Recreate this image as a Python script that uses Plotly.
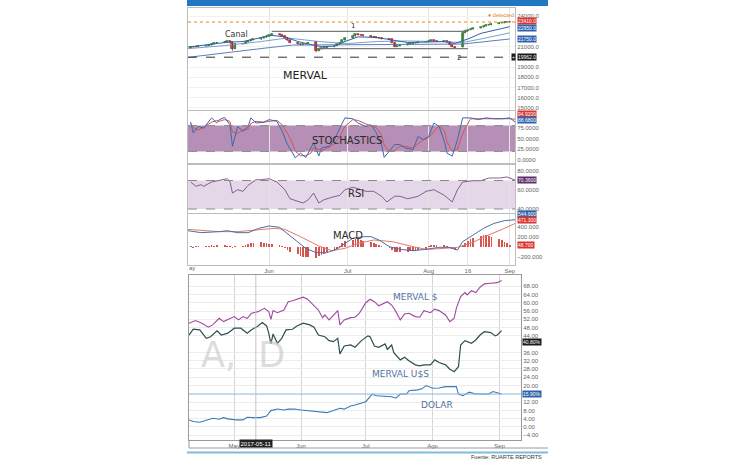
import pandas as pd
import plotly.graph_objects as go

# ---------------- DATA ----------------
# MERVAL daily candles (trading days 2017-05-02 .. 2017-09-01)
trade_days = pd.bdate_range("2017-05-02", "2017-09-01")
m_open = [20900, 20950, 21000, 20980, 21050, 21100, 21150, 21250, 21350, 21400, 21500, 21550, 21450, 20800, 21250, 21300, 21450, 21550, 21650, 21700, 21800, 21900,
          22000, 22100, 22200, 22150, 22050, 21850, 21600, 21400, 21250, 21200, 21250, 21300, 21450, 20600, 20750, 20850, 20900, 21000, 21100, 21250, 21400, 21600,
          21800, 22000, 22200, 22150, 22100, 22050, 21950, 21900, 21850, 21800, 21750, 21700, 21400, 21000, 21050, 21150, 21250, 21300, 21350, 21400, 21450,
          21500, 21550, 21600, 21550, 21500, 21550, 21450, 21200, 21000, 20950, 22350, 22550, 22650, 22700, 22800, 22900, 23000, 23100, 23150, 23250, 23300, 23350, 23400, 23380]
m_high = [21000, 21050, 21050, 21100, 21150, 21200, 21300, 21400, 21450, 21550, 21600, 21600, 21500, 21300, 21350, 21500, 21600, 21700, 21750, 21850, 21950, 22100,
          22150, 22300, 22250, 22200, 22100, 21900, 21650, 21450, 21300, 21300, 21350, 21450, 21500, 20800, 20900, 20950, 21050, 21150, 21300, 21450, 21650, 21850,
          22050, 22250, 22250, 22200, 22150, 22100, 22000, 21950, 21900, 21850, 21800, 21750, 21450, 21100, 21200, 21300, 21350, 21400, 21450, 21500, 21550,
          21600, 21650, 21650, 21600, 21600, 21600, 21500, 21250, 21050, 22400, 22650, 22700, 22750, 22850, 22950, 23050, 23150, 23200, 23300, 23350, 23400, 23450, 23450, 23480]
m_low = [20850, 20900, 20930, 20950, 21000, 21050, 21100, 21200, 21300, 21350, 21450, 21400, 20600, 20750, 21200, 21250, 21400, 21500, 21600, 21650, 21750, 21850,
         21950, 22050, 22100, 22000, 21800, 21550, 21350, 21200, 21150, 21150, 21200, 21250, 20450, 20550, 20700, 20800, 20850, 20950, 21050, 21200, 21350, 21550,
         21750, 21950, 22100, 22050, 22000, 21900, 21850, 21800, 21750, 21700, 21650, 21350, 20950, 20950, 21000, 21100, 21200, 21250, 21300, 21350, 21400,
         21450, 21500, 21500, 21450, 21450, 21400, 21150, 20950, 20850, 20900, 22300, 22500, 22600, 22650, 22750, 22850, 22950, 23050, 23100, 23200, 23250, 23300, 23330, 23350]
m_close = [20950, 21000, 20980, 21050, 21100, 21150, 21250, 21350, 21400, 21500, 21550, 21450, 20750, 21250, 21300, 21450, 21550, 21650, 21700, 21800, 21900, 22000,
           22100, 22200, 22150, 22050, 21850, 21600, 21400, 21250, 21200, 21250, 21300, 21400, 20600, 20750, 20850, 20900, 21000, 21100, 21250, 21400, 21600, 21800,
           22000, 22200, 22150, 22100, 22050, 21950, 21900, 21850, 21800, 21750, 21700, 21400, 21000, 21050, 21150, 21250, 21300, 21350, 21400, 21450, 21500,
           21550, 21600, 21550, 21500, 21550, 21450, 21200, 21000, 20900, 22350, 22550, 22650, 22700, 22800, 22900, 23000, 23100, 23150, 23250, 23300, 23350, 23400, 23380, 23410]

ma1_dates = ["2017-05-01", "2017-05-08", "2017-05-15", "2017-05-22", "2017-05-29", "2017-06-02", "2017-06-07", "2017-06-12", "2017-06-16", "2017-06-21", "2017-06-26", "2017-06-30",
             "2017-07-05", "2017-07-12", "2017-07-18", "2017-07-24", "2017-07-31", "2017-08-07", "2017-08-11", "2017-08-16", "2017-08-21", "2017-08-28", "2017-09-01"]
ma1 = [20950, 21150, 21400, 21500, 21850, 22100, 21950, 21500, 21250, 21000, 21050, 21500, 21950, 21900, 21650, 21400, 21450, 21500, 21300, 21750, 22300, 22750, 22950]
ma2_dates = ["2017-05-01", "2017-05-15", "2017-05-29", "2017-06-08", "2017-06-20", "2017-07-01", "2017-07-12", "2017-07-24", "2017-08-04", "2017-08-14", "2017-08-21", "2017-09-01"]
ma2 = [20800, 21100, 21500, 21850, 21500, 21300, 21500, 21550, 21500, 21400, 21750, 22350]
ma3_dates = ["2017-05-01", "2017-05-15", "2017-06-01", "2017-06-10", "2017-07-01", "2017-07-20", "2017-08-14", "2017-09-01"]
ma3 = [19950, 20400, 20900, 21150, 21200, 21250, 21250, 21750]

channel1_dates = ["2017-06-02", "2017-08-16"]
channel1 = [22500, 22500]
channel2_dates = ["2017-06-19", "2017-08-16"]
channel2 = [20800, 20800]
last_price = 23410
support_level = 19962

# Stochastics
stoch_dates = ["2017-05-02", "2017-05-03", "2017-05-05", "2017-05-07", "2017-05-10", "2017-05-12", "2017-05-13", "2017-05-15", "2017-05-17", "2017-05-18", "2017-05-20", "2017-05-22",
               "2017-05-24", "2017-05-25", "2017-05-27", "2017-05-30", "2017-06-01", "2017-06-04", "2017-06-06", "2017-06-08", "2017-06-10", "2017-06-11", "2017-06-13", "2017-06-15",
               "2017-06-17", "2017-06-18", "2017-06-20", "2017-06-21", "2017-06-24", "2017-06-26", "2017-06-28", "2017-06-30", "2017-07-03", "2017-07-05", "2017-07-08", "2017-07-10",
               "2017-07-12", "2017-07-14", "2017-07-15", "2017-07-17", "2017-07-19", "2017-07-21", "2017-07-23", "2017-07-26", "2017-07-28", "2017-07-30", "2017-08-01", "2017-08-03",
               "2017-08-05", "2017-08-07", "2017-08-08", "2017-08-10", "2017-08-12", "2017-08-14", "2017-08-17", "2017-08-20", "2017-08-23", "2017-08-26", "2017-08-29", "2017-09-01", "2017-09-03"]
stoch_k = [88, 63, 78, 74, 98, 86, 94, 99, 82, 32, 78, 67, 78, 98, 86, 88,
           94, 90, 67, 36, 16, 5, 16, 6, 28, 40, 9, 28, 32, 47, 74, 98,
           96, 86, 78, 82, 63, 36, 6, 20, 36, 36, 28, 24, 55, 47,
           55, 86, 78, 43, 16, 9, 47, 98, 98, 94, 98, 96, 96,
           98, 88.68]
stoch_d = [85, 75, 70, 76, 88, 92, 90, 94, 90, 65, 62, 70, 72, 85, 90, 88,
           90, 92, 82, 62, 38, 20, 10, 10, 16, 28, 25, 22, 30, 38, 55, 78,
           94, 92, 84, 80, 75, 58, 35, 20, 22, 32, 32, 28, 38, 48,
           52, 65, 80, 68, 42, 20, 25, 62, 96, 96, 96, 97, 96,
           96, 94.92]
stoch_band = [20, 80]

# RSI
rsi_dates = ["2017-05-02", "2017-05-04", "2017-05-06", "2017-05-07", "2017-05-10", "2017-05-13", "2017-05-16", "2017-05-17", "2017-05-18", "2017-05-20", "2017-05-22", "2017-05-24",
             "2017-05-27", "2017-05-29", "2017-06-01", "2017-06-04", "2017-06-07", "2017-06-09", "2017-06-12", "2017-06-14", "2017-06-16", "2017-06-18", "2017-06-20", "2017-06-22",
             "2017-06-25", "2017-06-28", "2017-06-30", "2017-07-03", "2017-07-05", "2017-07-08", "2017-07-11", "2017-07-14", "2017-07-16", "2017-07-19", "2017-07-21", "2017-07-24",
             "2017-07-28", "2017-07-31", "2017-08-03", "2017-08-07", "2017-08-10", "2017-08-12", "2017-08-14", "2017-08-18", "2017-08-21", "2017-08-24", "2017-08-28", "2017-08-31", "2017-09-03"]
rsi = [68.4, 63.9, 65.6, 63.9, 68.4, 69.8, 71.9, 69.2, 56.8, 60.3, 58.6, 64.9, 70.8, 70.8,
       71.9, 68.4, 60.3, 50.8, 48.1, 46.3, 49.8, 56.8, 46.3, 49.8, 52.3, 54.4, 60.3,
       62.8, 61.4, 58.6, 58.6, 53.4, 47.4, 53.4, 53.4, 50.8, 53.4, 58.6,
       60.3, 54.4, 47.4, 60.3, 68.4, 69.8, 69.8, 72.6, 72.6, 73.7, 70.36]
rsi_band = [40, 70]

# MACD
macd_dates = ["2017-05-01", "2017-05-06", "2017-05-13", "2017-05-16", "2017-05-20", "2017-05-24", "2017-05-28", "2017-06-01", "2017-06-05", "2017-06-07", "2017-06-11", "2017-06-15",
              "2017-06-19", "2017-06-23", "2017-06-26", "2017-06-28", "2017-06-30", "2017-07-03", "2017-07-07", "2017-07-10", "2017-07-13", "2017-07-17", "2017-07-21", "2017-07-26",
              "2017-07-31", "2017-08-05", "2017-08-09", "2017-08-12", "2017-08-14", "2017-08-18", "2017-08-22", "2017-08-26", "2017-08-30", "2017-09-03"]
macd = [326, 287, 307, 326, 287, 287, 373, 420, 393, 307, 140, -27, -113, -113, -60, -7, 73, 173, 207, 207, 140, 7, -47, -73, -47, -7, -7, -60, 107, 240, 373, 473, 527, 544.6]
signal_dates = ["2017-05-01", "2017-05-13", "2017-05-20", "2017-05-28", "2017-06-03", "2017-06-07", "2017-06-13", "2017-06-20", "2017-06-25", "2017-06-30", "2017-07-05",
                "2017-07-11", "2017-07-18", "2017-07-26", "2017-07-31", "2017-08-07", "2017-08-12", "2017-08-17", "2017-08-23", "2017-08-30", "2017-09-03"]
signal = [353, 307, 307, 340, 373, 353, 207, 20, -73, -27, 73, 140, 107, 7, -47, -27, -7, 73, 220, 373, 471.3]
macd_hist = [10, -10, 15, 10, 20, 15, 25, 20, 30, 25, 20, 15, -10, 10, 20, 40, 60, 80, 90, 100, 90, 80,
             70, 60, 50, 20, -20, -60, -100, -140, -170, -190, -200, -190, -210, -180, -160, -130, -100, -70, -40, 20, 80, 120,
             150, 170, 160, 140, 120, 100, 80, 60, 40, 20, -20, -60, -90, -100, -100, -90, -80, -70, -60, -50, -40,
             20, 40, 50, 40, 30, 10, -20, -40, -50, 40, 80, 120, 160, 190, 220, 240, 240, 220, 200, 170, 140, 110, 90, 48.7]

# Lower chart: % change
merval_ars_dates = ["2017-04-10", "2017-04-13", "2017-04-16", "2017-04-19", "2017-04-21", "2017-04-24", "2017-04-26", "2017-04-28",
                    "2017-05-01", "2017-05-03", "2017-05-05", "2017-05-07", "2017-05-09", "2017-05-12", "2017-05-15", "2017-05-17", "2017-05-18", "2017-05-19", "2017-05-21", "2017-05-24", "2017-05-26", "2017-05-28", "2017-05-31",
                    "2017-06-02", "2017-06-04", "2017-06-06", "2017-06-09", "2017-06-11", "2017-06-12", "2017-06-14", "2017-06-16", "2017-06-18", "2017-06-19", "2017-06-21", "2017-06-24", "2017-06-26", "2017-06-28",
                    "2017-07-01", "2017-07-03", "2017-07-05", "2017-07-07", "2017-07-09", "2017-07-11", "2017-07-13", "2017-07-15", "2017-07-17", "2017-07-19", "2017-07-21", "2017-07-24", "2017-07-26", "2017-07-28", "2017-07-31",
                    "2017-08-02", "2017-08-04", "2017-08-07", "2017-08-09", "2017-08-11", "2017-08-12", "2017-08-14", "2017-08-16", "2017-08-17", "2017-08-19", "2017-08-21", "2017-08-23", "2017-08-25", "2017-08-28", "2017-08-31",
                    "2017-09-02"]
merval_ars = [50.1, 51.4, 50.1, 48.2, 49.3, 52.5, 50.9, 52,
              53.3, 51.7, 53.3, 52.5, 54.9, 55.7, 57.3, 55.7, 52, 56.2, 55.2, 56.5, 60.5, 61, 62.2,
              62.7, 61.7, 59.8, 56.5, 52.8, 54.1, 51.7, 54.1, 56.2, 49.3, 51.7, 52.8, 53, 54.9,
              60, 61.7, 60.5, 58.5, 59.4, 60.5, 58.9, 55.7, 51.7, 54.6, 54.9, 53.3, 53, 56.2, 55.2,
              56.9, 56.2, 54.1, 50.9, 52.5, 57.3, 63, 64.9, 63.8, 65.8, 64.9, 67.5, 69.1, 69.4, 69.7,
              70.7]
merval_usd_dates = ["2017-04-10", "2017-04-12", "2017-04-15", "2017-04-18", "2017-04-20", "2017-04-23", "2017-04-25", "2017-04-28",
                    "2017-05-01", "2017-05-04", "2017-05-07", "2017-05-09", "2017-05-12", "2017-05-14", "2017-05-16", "2017-05-17", "2017-05-18", "2017-05-19", "2017-05-21", "2017-05-23", "2017-05-25", "2017-05-28", "2017-05-30",
                    "2017-06-02", "2017-06-05", "2017-06-07", "2017-06-09", "2017-06-12", "2017-06-14", "2017-06-16", "2017-06-18", "2017-06-19", "2017-06-21", "2017-06-24", "2017-06-26", "2017-06-29",
                    "2017-07-02", "2017-07-03", "2017-07-05", "2017-07-07", "2017-07-10", "2017-07-11", "2017-07-13", "2017-07-14", "2017-07-17", "2017-07-19", "2017-07-21", "2017-07-24", "2017-07-26", "2017-07-28", "2017-07-31",
                    "2017-08-02", "2017-08-04", "2017-08-07", "2017-08-09", "2017-08-11", "2017-08-13", "2017-08-14", "2017-08-16", "2017-08-19", "2017-08-21", "2017-08-23", "2017-08-25", "2017-08-28", "2017-08-30", "2017-08-31",
                    "2017-09-02"]
merval_usd = [44.4, 47.2, 46.9, 42.8, 43.6, 46.4, 44.4, 45.3,
              47.7, 47.7, 45.3, 46.9, 48.8, 50.4, 48.8, 45.3, 40.1, 44.9, 40.4, 42.8, 46.9, 47.2, 48.8,
              50.1, 49.3, 48.2, 44.4, 43.6, 41.7, 41.2, 42.8, 35.3, 39.1, 39.6, 38.5, 41.7,
              44, 43.6, 39.1, 38.5, 40.1, 37.5, 39.6, 35.9, 32.4, 33.7, 32, 30, 29.5, 30, 30,
              32.4, 31.1, 30, 27.9, 26.7, 29.1, 39.6, 41.7, 40.4, 42, 44.4, 46, 45.6, 44, 44.4,
              46.5]
dolar_dates = ["2017-04-10", "2017-04-12", "2017-04-15", "2017-04-18", "2017-04-21", "2017-04-24", "2017-04-26", "2017-04-28",
               "2017-05-02", "2017-05-05", "2017-05-07", "2017-05-10", "2017-05-13", "2017-05-16", "2017-05-18", "2017-05-21", "2017-05-24", "2017-05-26", "2017-05-29",
               "2017-06-01", "2017-06-04", "2017-06-07", "2017-06-10", "2017-06-13", "2017-06-16", "2017-06-19", "2017-06-21", "2017-06-24", "2017-06-26", "2017-06-29",
               "2017-07-01", "2017-07-03", "2017-07-04", "2017-07-06", "2017-07-10", "2017-07-13", "2017-07-15", "2017-07-17", "2017-07-20", "2017-07-21", "2017-07-25", "2017-07-27", "2017-07-29",
               "2017-08-01", "2017-08-04", "2017-08-07", "2017-08-10", "2017-08-12", "2017-08-13", "2017-08-15", "2017-08-18", "2017-08-21", "2017-08-24", "2017-08-27", "2017-08-29", "2017-08-31",
               "2017-09-02"]
dolar = [3.4, 2.6, 2.3, 3.4, 4.2, 3.7, 4.5, 3.9,
         3.4, 3.4, 4.7, 4.5, 4.5, 5.3, 7.9, 8.7, 8.2, 8.6, 8.7,
         8.2, 7.9, 7.7, 7.1, 6.9, 7.9, 9, 8.6, 10.1, 10.6, 11.4,
         12.2, 14.6, 15.8, 15.1, 15, 14.6, 13.9, 15.9, 15.9, 17.5, 17.9, 18.4, 20,
         18.7, 18.8, 19.5, 19.5, 19.5, 15.9, 15.1, 16.8, 15.9, 15.9, 15.9, 17.1, 16.6,
         15.9]
crosshair_date = "2017-05-11"
crosshair_value = 40.80

top_ticks = ["2017-06-01", "2017-07-01", "2017-08-01", "2017-08-16", "2017-09-01"]
top_ticktext = ["Jun", "Jul", "Aug", "16", "Sep"]
bot_ticks = ["2017-05-01", "2017-06-01", "2017-07-01", "2017-08-01", "2017-09-01"]
bot_ticktext = ["May", "Jun", "Jul", "Ago", "Sep"]

# ---------------- LAYOUT HELPERS ----------------
W, H = 730, 460
def fx(p):
    return p / W
def fy(p):
    return 1 - p / H

TICKFONT = dict(family="Liberation Sans", size=6, color="#666666")
LBLFONT = "DejaVu Sans"
GRID = "#e3e3e3"
BORDER = "#bdbdbd"
DAY_MS = 86400000

fig = go.Figure()

# ---- top panel: MERVAL candles ----
fig.add_trace(go.Scatter(x=ma3_dates, y=ma3, mode="lines", line=dict(color="#5b80b8", width=1), xaxis="x", yaxis="y", hoverinfo="skip"))
fig.add_trace(go.Scatter(x=ma2_dates, y=ma2, mode="lines", line=dict(color="#7b9fd0", width=1), xaxis="x", yaxis="y", hoverinfo="skip"))
fig.add_trace(go.Scatter(x=ma1_dates, y=ma1, mode="lines", line=dict(color="#2f63ad", width=1), xaxis="x", yaxis="y", hoverinfo="skip"))
fig.add_trace(go.Scatter(x=channel1_dates, y=channel1, mode="lines", line=dict(color="#7a7a7a", width=1.3), xaxis="x", yaxis="y", hoverinfo="skip"))
fig.add_trace(go.Scatter(x=channel2_dates, y=channel2, mode="lines", line=dict(color="#7a7a7a", width=1.3), xaxis="x", yaxis="y", hoverinfo="skip"))

# candles drawn as wick lines + body bars (so the body width can be set)
for up, fill, edge in [(True, "#5aa85a", "#2e6e2e"), (False, "#cc4444", "#9b2a2a")]:
    idx = [i for i in range(len(trade_days)) if (m_close[i] >= m_open[i]) == up]
    wx, wy = [], []
    for i in idx:
        wx += [trade_days[i], trade_days[i], None]
        wy += [m_low[i], m_high[i], None]
    fig.add_trace(go.Scatter(x=wx, y=wy, mode="lines", line=dict(color=edge, width=0.8),
                             xaxis="x", yaxis="y", hoverinfo="skip"))
    fig.add_trace(go.Bar(x=[trade_days[i] for i in idx],
                         y=[abs(m_close[i] - m_open[i]) for i in idx],
                         base=[min(m_close[i], m_open[i]) for i in idx],
                         width=0.75 * DAY_MS, marker=dict(color=fill, line=dict(color=edge, width=0.7)),
                         xaxis="x", yaxis="y", hoverinfo="skip"))

# ---- stochastics ----
fig.add_trace(go.Scatter(x=stoch_dates, y=stoch_d, mode="lines", line=dict(color="#d9534f", width=1), xaxis="x2", yaxis="y2", hoverinfo="skip"))
fig.add_trace(go.Scatter(x=stoch_dates, y=stoch_k, mode="lines", line=dict(color="#3a67b0", width=1), xaxis="x2", yaxis="y2", hoverinfo="skip"))

# ---- RSI ----
fig.add_trace(go.Scatter(x=rsi_dates, y=rsi, mode="lines", line=dict(color="#7b4f8a", width=0.9), xaxis="x3", yaxis="y3", hoverinfo="skip"))

# ---- MACD ----
fig.add_trace(go.Bar(x=trade_days, y=macd_hist, marker=dict(color="#d9534f", line=dict(width=0)), width=0.3 * DAY_MS,
                     xaxis="x4", yaxis="y4", hoverinfo="skip"))
fig.add_trace(go.Scatter(x=signal_dates, y=signal, mode="lines", line=dict(color="#e07a6a", width=1), xaxis="x4", yaxis="y4", hoverinfo="skip"))
fig.add_trace(go.Scatter(x=macd_dates, y=macd, mode="lines", line=dict(color="#4a6fa5", width=1), xaxis="x4", yaxis="y4", hoverinfo="skip"))

# ---- lower chart ----
fig.add_trace(go.Scatter(x=dolar_dates, y=dolar, mode="lines", line=dict(color="#3d7ab8", width=1.1), xaxis="x5", yaxis="y5", hoverinfo="skip"))
fig.add_trace(go.Scatter(x=merval_usd_dates, y=merval_usd, mode="lines", line=dict(color="#2f4f4f", width=1.2), xaxis="x5", yaxis="y5", hoverinfo="skip"))
fig.add_trace(go.Scatter(x=merval_ars_dates, y=merval_ars, mode="lines", line=dict(color="#a2479f", width=1.1), xaxis="x5", yaxis="y5", hoverinfo="skip"))

xdom_top = [fx(188), fx(515)]
xrange_top = ["2017-05-01", "2017-09-03"]

def xtop(anchor, labels=False):
    return dict(domain=xdom_top, range=xrange_top, anchor=anchor, type="date",
                tickvals=top_ticks, ticktext=top_ticktext, showticklabels=labels, ticks="",
                showgrid=True, gridcolor=GRID, gridwidth=1, zeroline=False,
                showline=True, mirror=True, linecolor=BORDER, linewidth=1,
                tickfont=TICKFONT, fixedrange=True)

def yright(dom, rng, vals, fmt, suffix=""):
    return dict(domain=dom, range=rng, side="right", tickvals=vals, tickformat=fmt, ticksuffix=suffix,
                tickfont=TICKFONT, ticks="", showgrid=False, zeroline=False,
                showline=True, mirror=True, linecolor=BORDER, linewidth=1, fixedrange=True)

layout = dict(
    width=W, height=H, margin=dict(l=0, r=0, t=0, b=0),
    paper_bgcolor="white", plot_bgcolor="white", showlegend=False, barmode="overlay", bargap=0,
    xaxis=dict(xtop("y"), rangeslider=dict(visible=False)),
    xaxis2=dict(xtop("y2"), matches="x"),
    xaxis3=dict(xtop("y3"), matches="x"),
    xaxis4=dict(xtop("y4", labels=True), matches="x"),
    yaxis=yright([fy(110), fy(8)], [14788, 24784], [15000, 16000, 17000, 18000, 19000, 21000, 24000], ".1f"),
    yaxis2=yright([fy(163), fy(111)], [-7, 114], [0, 25, 50, 75], ".4f"),
    yaxis3=yright([fy(213), fy(165)], [35.8, 86.3], [40, 60, 80], ".4f"),
    yaxis4=yright([fy(265), fy(214)], [-360, 660], [-200, 200, 400], ".3f"),
    xaxis5=dict(domain=[fx(189), fx(521)], range=["2017-04-10", "2017-09-11"], anchor="y5", type="date",
                tickvals=bot_ticks, ticktext=bot_ticktext, ticks="", tickfont=TICKFONT,
                showgrid=True, gridcolor="#d6d6d6", zeroline=False,
                showline=True, mirror=True, linecolor="#9a9a9a", linewidth=1, fixedrange=True),
    yaxis5=dict(yright([fy(440), fy(275)], [-6.3, 73.4],
                       [-4, 0, 4, 8, 12, 20, 24, 28, 32, 36, 44, 48, 52, 56, 60, 64, 68], ".2f", "%"),
                showgrid=True, gridcolor="#ececec", anchor="x5", linecolor="#9a9a9a"),
)
layout["yaxis"]["gridcolor"] = "#f2f2f2"
layout["yaxis"]["showgrid"] = True
fig.update_layout(**layout)
fig.update_layout(yaxis=dict(anchor="x"), yaxis2=dict(anchor="x2"), yaxis3=dict(anchor="x3"), yaxis4=dict(anchor="x4"))

shapes = []
shapes.append(dict(type="rect", xref="paper", yref="paper", x0=fx(187), x1=fx(548), y0=fy(6), y1=1,
                   fillcolor="#1f78c1", line=dict(width=0)))
shapes.append(dict(type="line", xref="x domain", yref="y", x0=0, x1=1, y0=last_price, y1=last_price,
                   line=dict(color="#e8891c", width=1, dash="dot")))
shapes.append(dict(type="line", xref="x domain", yref="y", x0=0, x1=1, y0=support_level, y1=support_level,
                   line=dict(color="#333333", width=1, dash="dash")))
shapes.append(dict(type="rect", xref="x2 domain", yref="y2", x0=0, x1=1, y0=stoch_band[0], y1=stoch_band[1],
                   fillcolor="rgba(135,75,135,0.62)", line=dict(width=0), layer="below"))
for v in stoch_band:
    shapes.append(dict(type="line", xref="x2 domain", yref="y2", x0=0, x1=1, y0=v, y1=v,
                       line=dict(color="#8a8a8a", width=1, dash="dash")))
shapes.append(dict(type="rect", xref="x3 domain", yref="y3", x0=0, x1=1, y0=rsi_band[0], y1=rsi_band[1],
                   fillcolor="rgba(170,130,180,0.32)", line=dict(width=0), layer="below"))
for v in rsi_band:
    shapes.append(dict(type="line", xref="x3 domain", yref="y3", x0=0, x1=1, y0=v, y1=v,
                       line=dict(color="#8a8a8a", width=1, dash="dash")))
shapes.append(dict(type="line", xref="x5 domain", yref="y5", x0=0, x1=1, y0=dolar[-1], y1=dolar[-1],
                   line=dict(color="#8fb4dc", width=1)))
shapes.append(dict(type="line", xref="x5", yref="y5 domain", x0=crosshair_date, x1=crosshair_date, y0=0, y1=1,
                   line=dict(color="#c4c4c4", width=1)))
shapes.append(dict(type="line", xref="paper", yref="paper", x0=fx(189), x1=fx(548), y0=fy(448), y1=fy(448),
                   line=dict(color="#9a9a9a", width=1)))
shapes.append(dict(type="line", xref="paper", yref="paper", x0=fx(189), x1=fx(189), y0=fy(448), y1=fy(440),
                   line=dict(color="#9a9a9a", width=1)))
shapes.append(dict(type="line", xref="paper", yref="paper", x0=fx(187), x1=fx(548), y0=fy(452.5), y1=fy(452.5),
                   line=dict(color="#7fbbe0", width=2)))
fig.update_layout(shapes=shapes)

ann = []
def text(t, px, py, size, color="#222222", family=LBLFONT, xanchor="center", **kw):
    ann.append(dict(text=t, x=fx(px), y=fy(py), xref="paper", yref="paper", showarrow=False,
                    xanchor=xanchor, yanchor="middle", font=dict(family=family, size=size, color=color), **kw))

def tag(t, y, yref, bg, px, shift=0):
    ann.append(dict(text=t, x=fx(px), y=y, xref="paper", yref=yref, yshift=shift, showarrow=False,
                    xanchor="left", yanchor="middle", bgcolor=bg, borderpad=0,
                    font=dict(family="Liberation Sans", size=5, color="white")))

text("Canal", 236, 34, 8, "#333333")
text("1", 353, 26, 7, "#333333")
text("2", 459, 58, 7, "#333333")
text("MERVAL", 305, 76, 11, "#222222")
text("STOCHASTICS", 347, 140, 10, "#2a2a2a")
text("RSI", 356, 193, 10, "#2a2a2a")
text("MACD", 348, 235, 10, "#2a2a2a")
text("● detected", 516, 15.5, 5.5, "#e8891c", family="Liberation Sans", xanchor="right")
text("ay", 192, 267.5, 6, "#666666", family="Liberation Sans")
text("MERVAL $", 415, 297, 9, "#50739e")
text("MERVAL U$S", 400, 374, 9, "#50739e")
text("DOLAR", 437, 405, 9, "#50739e")
text("A,  D", 243, 355, 35, "rgba(205,205,205,0.7)", family="DejaVu Sans")
text("Fuente: RUARTE REPORTS", 544, 457, 5.5, "#333333", family="Liberation Sans", xanchor="right")
text("2017-05-11", 256, 443.5, 6, "white", family="Liberation Sans", bgcolor="#222222", borderpad=0.5)

tag(f"{last_price:.1f}", last_price, "y", "#d9352f", 517, 1)
tag(f"{ma1[-1]:.1f}", ma1[-1], "y", "#2f63ad", 517, -1)
tag(f"{ma3[-1]:.1f}", ma3[-1], "y", "#2f63ad", 517)
tag(f"{support_level:.1f}", support_level, "y", "#1a1a1a", 517)
tag("+", support_level, "y", "#1a1a1a", 511)
tag(f"{stoch_d[-1]:.4f}", stoch_d[-1], "y2", "#d9352f", 517, 5)
tag(f"{stoch_k[-1]:.4f}", stoch_k[-1], "y2", "#2f63ad", 517, 1.5)
tag(f"{rsi[-1]:.4f}", rsi[-1], "y3", "#5e2f6a", 517)
tag(f"{macd[-1]:.3f}", macd[-1], "y4", "#2f63ad", 517, 6)
tag(f"{signal[-1]:.3f}", signal[-1], "y4", "#d9352f", 517, 3.5)
tag(f"{macd_hist[-1]:.3f}", macd_hist[-1], "y4", "#d9352f", 517)
tag(f"{crosshair_value:.2f}%", crosshair_value, "y5", "#1a1a1a", 522)
tag(f"{dolar[-1]:.2f}%", dolar[-1], "y5", "#2f63ad", 522)
fig.update_layout(annotations=ann)

fig.write_html("out.html", config=dict(displayModeBar=False))
